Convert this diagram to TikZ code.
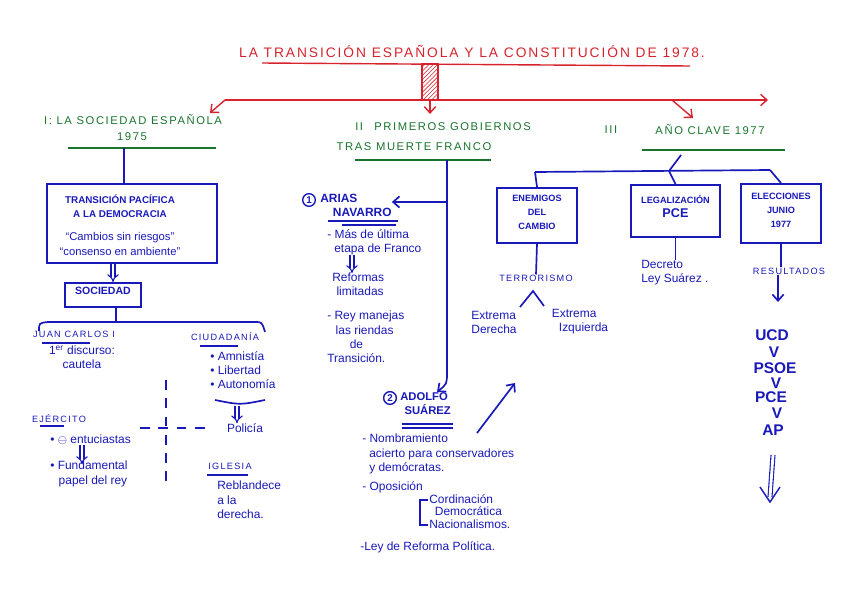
\documentclass[tikz,border=0pt]{standalone}
\usepackage{fontspec}
\setmainfont{Liberation Sans}
\newfontfamily\mayus[LetterSpace=14]{Liberation Sans}
\usepackage{tikz}
\usetikzlibrary{arrows.meta,patterns,fit,positioning}
\definecolor{rojo}{RGB}{215,35,45}
\definecolor{verde}{RGB}{25,115,45}
\definecolor{tinta}{RGB}{25,25,185}

\begin{document}
\begin{tikzpicture}[x=0.025cm,y=-0.025cm,>={Straight Barb[length=4.5pt,width=8pt]},
 titulo/.style={text=rojo,font=\mayus\fontsize{9.8}{11}\selectfont,inner sep=0},
 seccion/.style={text=verde,font=\mayus\fontsize{8}{10}\selectfont,inner sep=0,align=center},
 caja/.style={draw=tinta,line width=1.4pt,inner sep=0},
 capsbox/.style={text=tinta,font=\bfseries\fontsize{7}{10}\selectfont,align=center,inner sep=0},
 rotulo/.style={text=tinta,font=\mayus\fontsize{6.5}{9}\selectfont,inner sep=0},
 nota/.style={text=tinta,font=\fontsize{8.5}{10}\selectfont,align=left,inner sep=0},
 partido/.style={text=tinta,font=\bfseries\fontsize{11}{12}\selectfont,inner sep=0},
 numero/.style={circle,draw=tinta,line width=1pt,text=tinta,font=\bfseries\fontsize{7}{7}\selectfont,inner sep=1pt},
 trazo/.style={draw=tinta,line width=1.2pt},
 subraya/.style={draw=tinta,line width=1pt},
 doble/.style={draw=tinta,double=white,double distance=2pt,line width=0.8pt,-{Implies[scale=1.5]}},
 rama/.style={draw=rojo,line width=1pt},
 linea/.style={draw=verde,line width=1.3pt}]
\useasboundingbox (0,0) rectangle (848,599);

% titulo
\node[titulo] (titulo) at (472,52) {LA TRANSICIÓN ESPAÑOLA Y LA CONSTITUCIÓN DE 1978.};
\draw[rama] (262,63) -- (690,66);
\draw[rama,pattern=north east lines,pattern color=rojo] (422,64) rectangle (438,100);
\coordinate (raiz) at (430,100);
\coordinate (ramaI) at (225,100);
\coordinate (ramaFin) at (768,100);
\coordinate (puntaI) at (210,113);
\coordinate (puntaII) at (430,114);
\coordinate (ramaIII) at (672,100);
\coordinate (puntaIII) at (693,118);
\draw[rama,->] (ramaI) -- (ramaFin);
\draw[rama,->] (ramaI) -- (puntaI);
\draw[rama,->] (raiz) -- (puntaII);
\draw[rama,->] (ramaIII) -- (puntaIII);

% I
\node[seccion] (secI) at (133,120) {I: LA SOCIEDAD ESPAÑOLA};
\node[seccion] (secIano) at (132,137) {1975};
\draw[linea] (68,148) -- (216,148);
\coordinate (baseI) at (124,148);

\node[caja,fit={(47,184) (217,263)}] (transicion) {};
\node[capsbox] (transiciontxt) at (120,206) {TRANSICIÓN PACÍFICA\\A LA DEMOCRACIA};
\node[nota,align=center,font=\fontsize{8}{10}\selectfont] (lemas) at (120,244) {“Cambios sin riesgos”\\“consenso en ambiente”};
\draw[trazo] (baseI) -- (baseI |- transicion.north);

\node[caja,fit={(65,283) (141,307)},capsbox,font=\bfseries\fontsize{7.5}{9}\selectfont] (sociedad) {SOCIEDAD};
\draw[doble] (transicion.south -| 113,0) -- (sociedad.north -| 113,0);
\coordinate (nudoI) at (116,322);
\draw[trazo] (sociedad.south -| nudoI) -- (nudoI);
\draw[trazo] (39,331) .. controls (39,323) .. (48,322) -- (255,322) .. controls (262,322) .. (265,332);

\node[rotulo] (juan) at (74,334) {JUAN CARLOS I};
\draw[subraya] (42,343) -- (90,343);
\node[nota,align=center] (discurso) at (82,357) {1\textsuperscript{er} discurso:\\cautela};

\node[rotulo] (ciudadania) at (225,337) {CIUDADANÍA};
\draw[subraya] (200,346) -- (238,346);
\node[nota,anchor=north west] (libertades) at (210,351) {• Amnistía\\• Libertad\\• Autonomía};
\draw[trazo] (215,400) .. controls (240,405) .. (265,400);
\node[nota] (policia) at (245,428) {Policía};
\draw[doble] (237,406) -- (policia.north -| 237,0);

\draw[tinta,line width=1.8pt,dash pattern=on 7pt off 6pt] (166,380) -- (166,487);
\draw[tinta,line width=1.8pt,dash pattern=on 7pt off 6pt] (140,428) -- (208,428);

\node[rotulo] (ejercito) at (59,419) {EJÉRCITO};
\draw[subraya] (40,426) -- (64,426);
\node[nota,anchor=west] (entusiastas) at (50,440) {• $\ominus$ entuciastas};
\node[nota,anchor=north west] (papel) at (50,461) {• Fundamental\\\hspace{6pt}papel del rey};
\draw[doble] (entusiastas.south -| 82,0) -- (82,464);

\node[rotulo] (iglesia) at (230,466) {IGLESIA};
\draw[subraya] (207,475) -- (248,475);
\node[nota,anchor=north west] (reblandece) at (217,481) {Reblandece\\a la\\derecha.};

% II
\node[seccion,anchor=west] (secII) at (355,127) {II\quad PRIMEROS GOBIERNOS};
\node[seccion] (secIIb) at (414,147) {TRAS MUERTE FRANCO};
\draw[linea] (355,160) -- (491,160);
\coordinate (baseII) at (447,160);
\coordinate (codoII) at (447,372);
\coordinate (puntaSuarez) at (437,392);
\coordinate (cruceArias) at (447,202);
\draw[trazo,->] (baseII) -- (codoII) .. controls (447,384) .. (puntaSuarez);

\node[numero] (uno) at (309,200) {1};
\node[capsbox,anchor=north west,align=left,font=\bfseries\fontsize{8.5}{10}\selectfont] (arias) at (320,194) {ARIAS\\\hspace{9pt}NAVARRO};
\draw[trazo,->] (cruceArias) -- (cruceArias -| arias.east);
\draw[subraya] (328,221) -- (398,221);
\draw[subraya] (342,225) -- (396,225);
\node[nota,anchor=north west] (etapa) at (327,229) {- Más de última\\\hspace{5pt}etapa de Franco};
\node[nota,anchor=north west] (reformas) at (332,273) {Reformas\\\hspace{3pt}limitadas};
\draw[doble] (352,255) -- (reformas.north -| 352,0);
\node[nota,anchor=north west] (rey) at (327,311) {- Rey manejas\\\hspace{6pt}las riendas\\\hspace{16pt}de\\Transición.};

\node[numero] (dos) at (390,398) {2};
\node[capsbox,anchor=north west,align=left,font=\bfseries\fontsize{8}{10}\selectfont] (suarez) at (400,392) {ADOLFO\\\hspace{3pt}SUÁREZ};
\draw[subraya] (402,424) -- (453,424);
\draw[subraya] (402,428) -- (453,428);
\node[nota,anchor=north west] (nombramiento) at (362,434) {- Nombramiento\\\hspace{5pt}acierto para conservadores\\\hspace{5pt}y demócratas.};
\node[nota,anchor=west] (oposicion) at (362,487) {- Oposición};
\draw[subraya] (428,500) -- (420,500) -- (420,525) -- (428,525);
\node[nota,anchor=north west,font=\fontsize{8.5}{9}\selectfont] (grupos) at (429,494) {Cordinación\\\hspace{4pt}Democrática\\Nacionalismos.};
\node[nota,anchor=west] (ley) at (360,547) {-Ley de Reforma Política.};
\coordinate (colaDiag) at (477,433);
\coordinate (puntaDiag) at (515,383);
\draw[trazo,->] (colaDiag) -- (puntaDiag);

% III
\node[seccion] (secIII) at (611,130) {III};
\node[seccion] (secIIIb) at (710,130) {AÑO CLAVE 1977};
\draw[linea] (642,150) -- (785,150);
\coordinate (baseIII) at (681,155);
\coordinate (nudoIII) at (669,171);
\coordinate (nudoA) at (535,172);
\coordinate (nudoC) at (770,170);
\draw[trazo] (baseIII) -- (nudoIII);
\draw[trazo] (nudoA) -- (nudoC);

\node[caja,fit={(497,188) (577,243)},capsbox,font=\bfseries\fontsize{6.5}{10}\selectfont] (enemigos) {ENEMIGOS\\DEL\\CAMBIO};
\node[caja,fit={(631,185) (720,237)},capsbox,font=\bfseries\fontsize{6.5}{10}\selectfont] (legal) {LEGALIZACIÓN\\{\fontsize{9}{12}\selectfont PCE}};
\node[caja,fit={(741,184) (821,243)},capsbox,font=\bfseries\fontsize{6.5}{10}\selectfont] (elecciones) {ELECCIONES\\JUNIO\\1977};
\draw[trazo] (nudoA) -- (enemigos.north);
\draw[trazo] (nudoIII) -- (legal.north);
\draw[trazo] (nudoC) -- (elecciones.north);

\node[rotulo] (terrorismo) at (536,278) {TERRORISMO};
\draw[trazo] (enemigos.south) -- (terrorismo.north);
\coordinate (picoIzq) at (520,307);
\coordinate (pico) at (533,291);
\coordinate (picoDer) at (544,306);
\draw[trazo] (picoIzq) -- (pico) -- (picoDer);
\node[nota,align=left] (derecha) at (494,322) {Extrema\\Derecha};
\node[nota,align=left] (izquierda) at (580,322) {Extrema\\\hspace{5pt}Izquierda};

\node[nota,anchor=north west] (decreto) at (641,260) {Decreto\\Ley Suárez .};
\draw[trazo] (legal.south) -- (decreto.north -| legal.south);

\node[rotulo] (resultados) at (789,271) {RESULTADOS};
\draw[trazo] (elecciones.south) -- (resultados.north -| elecciones.south);
\coordinate (bajada) at (778,302);
\draw[trazo,->] (resultados.south -| bajada) -- (bajada);

\node[partido] (ucd) at (772,335) {UCD};
\node[partido] (v1) at (774,352) {V};
\node[partido] (psoe) at (775,368) {PSOE};
\node[partido] (v2) at (776,383) {V};
\node[partido] (pce) at (771,397) {PCE};
\node[partido] (v3) at (777,413) {V};
\node[partido] (ap) at (773,430) {AP};
\coordinate (finAP) at (770,502);
\coordinate (alaIzq) at (760,487);
\coordinate (alaDer) at (780,487);
\draw[doble,-] (ap.south |- 0,455) -- (770,497);
\draw[tinta,line width=1pt,line join=miter] (alaIzq) -- (finAP) -- (alaDer);
\end{tikzpicture}
\end{document}
